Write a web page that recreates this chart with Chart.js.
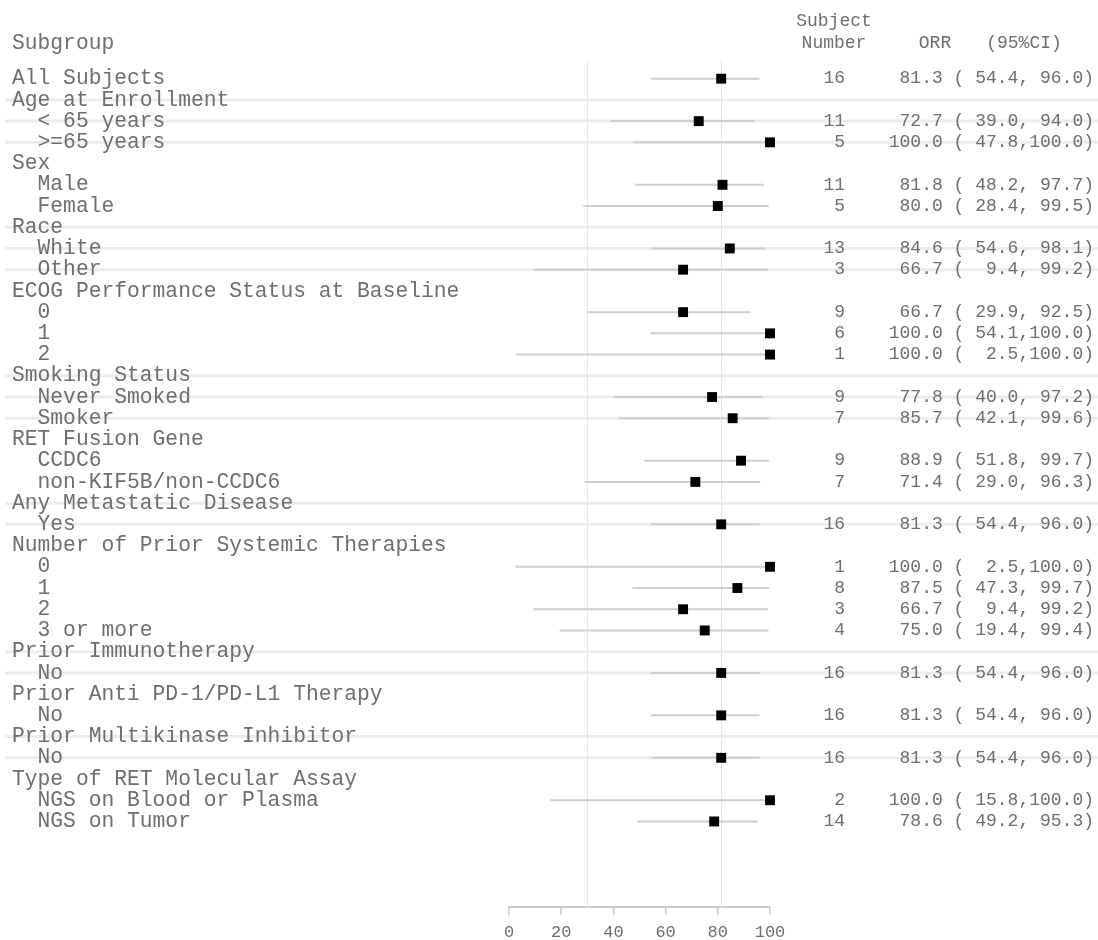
<!DOCTYPE html>
<html>
<head>
<meta charset="utf-8">
<script src="https://cdn.jsdelivr.net/npm/chart.js@4.4.1/dist/chart.umd.min.js"></script>
<style>
  html, body { margin: 0; padding: 0; background: #ffffff; }
  #wrap { position: relative; width: 1098px; height: 940px; }
</style>
</head>
<body>
<div id="wrap"><canvas id="c" width="1098" height="940"></canvas></div>
<script>
// ---- data ----
const subgroupLabels = [
  "All Subjects",
  "Age at Enrollment", "  < 65 years", "  >=65 years",
  "Sex", "  Male", "  Female",
  "Race", "  White", "  Other",
  "ECOG Performance Status at Baseline", "  0", "  1", "  2",
  "Smoking Status", "  Never Smoked", "  Smoker",
  "RET Fusion Gene", "  CCDC6", "  non-KIF5B/non-CCDC6",
  "Any Metastatic Disease", "  Yes",
  "Number of Prior Systemic Therapies", "  0", "  1", "  2", "  3 or more",
  "Prior Immunotherapy", "  No",
  "Prior Anti PD-1/PD-L1 Therapy", "  No",
  "Prior Multikinase Inhibitor", "  No",
  "Type of RET Molecular Assay", "  NGS on Blood or Plasma", "  NGS on Tumor"
];
const subjectN = [
  16,
  null, 11, 5,
  null, 11, 5,
  null, 13, 3,
  null, 9, 6, 1,
  null, 9, 7,
  null, 9, 7,
  null, 16,
  null, 1, 8, 3, 4,
  null, 16,
  null, 16,
  null, 16,
  null, 2, 14
];
const orrValues = [
  81.3,
  null, 72.7, 100.0,
  null, 81.8, 80.0,
  null, 84.6, 66.7,
  null, 66.7, 100.0, 100.0,
  null, 77.8, 85.7,
  null, 88.9, 71.4,
  null, 81.3,
  null, 100.0, 87.5, 66.7, 75.0,
  null, 81.3,
  null, 81.3,
  null, 81.3,
  null, 100.0, 78.6
];
const ciLower = [
  54.4,
  null, 39.0, 47.8,
  null, 48.2, 28.4,
  null, 54.6, 9.4,
  null, 29.9, 54.1, 2.5,
  null, 40.0, 42.1,
  null, 51.8, 29.0,
  null, 54.4,
  null, 2.5, 47.3, 9.4, 19.4,
  null, 54.4,
  null, 54.4,
  null, 54.4,
  null, 15.8, 49.2
];
const ciUpper = [
  96.0,
  null, 94.0, 100.0,
  null, 97.7, 99.5,
  null, 98.1, 99.2,
  null, 92.5, 100.0, 100.0,
  null, 97.2, 99.6,
  null, 99.7, 96.3,
  null, 96.0,
  null, 100.0, 99.7, 99.2, 99.4,
  null, 96.0,
  null, 96.0,
  null, 96.0,
  null, 100.0, 95.3
];
const xTicks = [0, 20, 40, 60, 80, 100];
const refLines = [30, 81.3];
const headerSubject = ["Subject", "Number"];
const headerORR = "ORR";
const headerCI = "(95%CI)";
const headerSubgroup = "Subgroup";

// ---- derived ----
const rowIdx = subgroupLabels.map((_, i) => i);
// group index: increments at each header row (row with no estimate)
const groupOf = [];
let g = 0;
rowIdx.forEach(i => { if (orrValues[i] === null) g++; groupOf.push(g); });

const pointData = [];
const ciData = [];
rowIdx.forEach(i => {
  if (orrValues[i] !== null) {
    pointData.push({ x: orrValues[i], y: i });
    ciData.push({ x: ciLower[i], y: i });
    ciData.push({ x: ciUpper[i], y: i });
    ciData.push({ x: null, y: null });
  }
});

const fmt = v => v.toFixed(1).padStart(5, " ");

const LEFT_FONT = "21.3px 'Liberation Mono', 'DejaVu Sans Mono', monospace";
const RIGHT_FONT = "18px 'Liberation Mono', 'DejaVu Sans Mono', monospace";
const TEXT_COLOR = "#6e6e6e";

const tablePlugin = {
  id: 'tablePlugin',
  beforeDatasetsDraw(chart) {
    const { ctx, chartArea, scales } = chart;
    const ys = scales.y, xs = scales.x;
    ctx.save();
    // band lines for alternating groups
    ctx.strokeStyle = "#ececec";
    ctx.lineWidth = 3;
    rowIdx.forEach(i => {
      if (groupOf[i] % 2 === 1) {
        const y = ys.getPixelForValue(i);
        ctx.beginPath();
        ctx.moveTo(5, y);
        ctx.lineTo(chart.width, y);
        ctx.stroke();
      }
    });
    // vertical reference lines
    ctx.strokeStyle = "#e6e6e6";
    ctx.lineWidth = 1;
    refLines.forEach(v => {
      const x = Math.round(xs.getPixelForValue(v)) + 0.5;
      ctx.beginPath();
      ctx.moveTo(x, chartArea.top);
      ctx.lineTo(x, chartArea.bottom);
      ctx.stroke();
    });
    ctx.restore();
  },
  afterDraw(chart) {
    const { ctx, scales } = chart;
    const ys = scales.y;
    ctx.save();
    ctx.fillStyle = TEXT_COLOR;
    ctx.textBaseline = "middle";
    // left labels
    ctx.font = LEFT_FONT;
    ctx.textAlign = "left";
    ctx.fillText(headerSubgroup, 12, 43);
    rowIdx.forEach(i => {
      ctx.fillText(subgroupLabels[i], 12, ys.getPixelForValue(i));
    });
    // right columns
    ctx.font = RIGHT_FONT;
    ctx.textAlign = "center";
    ctx.fillText(headerSubject[0], 834, 21);
    ctx.fillText(headerSubject[1], 834, 43);
    ctx.fillText(headerORR, 935, 43);
    ctx.fillText(headerCI, 1024, 43);
    rowIdx.forEach(i => {
      if (orrValues[i] === null) return;
      const y = ys.getPixelForValue(i);
      ctx.textAlign = "right";
      ctx.fillText(String(subjectN[i]), 845, y);
      const s = fmt(orrValues[i]) + " (" + fmt(ciLower[i]) + "," + fmt(ciUpper[i]) + ")";
      ctx.fillText(s, 1094, y);
    });
    ctx.restore();
  }
};

new Chart(document.getElementById('c'), {
  type: 'scatter',
  data: {
    datasets: [
      {
        type: 'line',
        data: ciData,
        borderColor: '#cfcfcf',
        borderWidth: 2,
        pointRadius: 0,
        showLine: true,
        spanGaps: false,
        fill: false,
        clip: false,
        order: 2
      },
      {
        data: pointData,
        pointStyle: 'rect',
        pointRadius: 7,
        pointHoverRadius: 7,
        backgroundColor: '#000000',
        borderColor: '#000000',
        borderWidth: 0,
        clip: false,
        order: 1
      }
    ]
  },
  options: {
    responsive: false,
    animation: false,
    events: [],
    layout: { padding: { left: 509, right: 328, top: 60, bottom: 0 } },
    plugins: { legend: { display: false }, tooltip: { enabled: false } },
    scales: {
      x: {
        type: 'linear',
        min: 0,
        max: 100,
        afterBuildTicks(scale) { scale.ticks = xTicks.map(v => ({ value: v })); },
        afterFit(scale) { scale.height = 33; },
        grid: { display: true, drawOnChartArea: false, drawTicks: true, tickLength: 8, color: '#cccccc', lineWidth: 1.5 },
        border: { display: true, color: '#cccccc', width: 2 },
        ticks: {
          padding: 7,
          color: '#6e6e6e',
          font: { family: "'Liberation Mono', monospace", size: 17 },
          maxRotation: 0,
          autoSkip: false
        }
      },
      y: {
        type: 'linear',
        display: false,
        reverse: true,
        min: -0.88,
        max: 39.03
      }
    }
  },
  plugins: [tablePlugin]
});
</script>
</body>
</html>
